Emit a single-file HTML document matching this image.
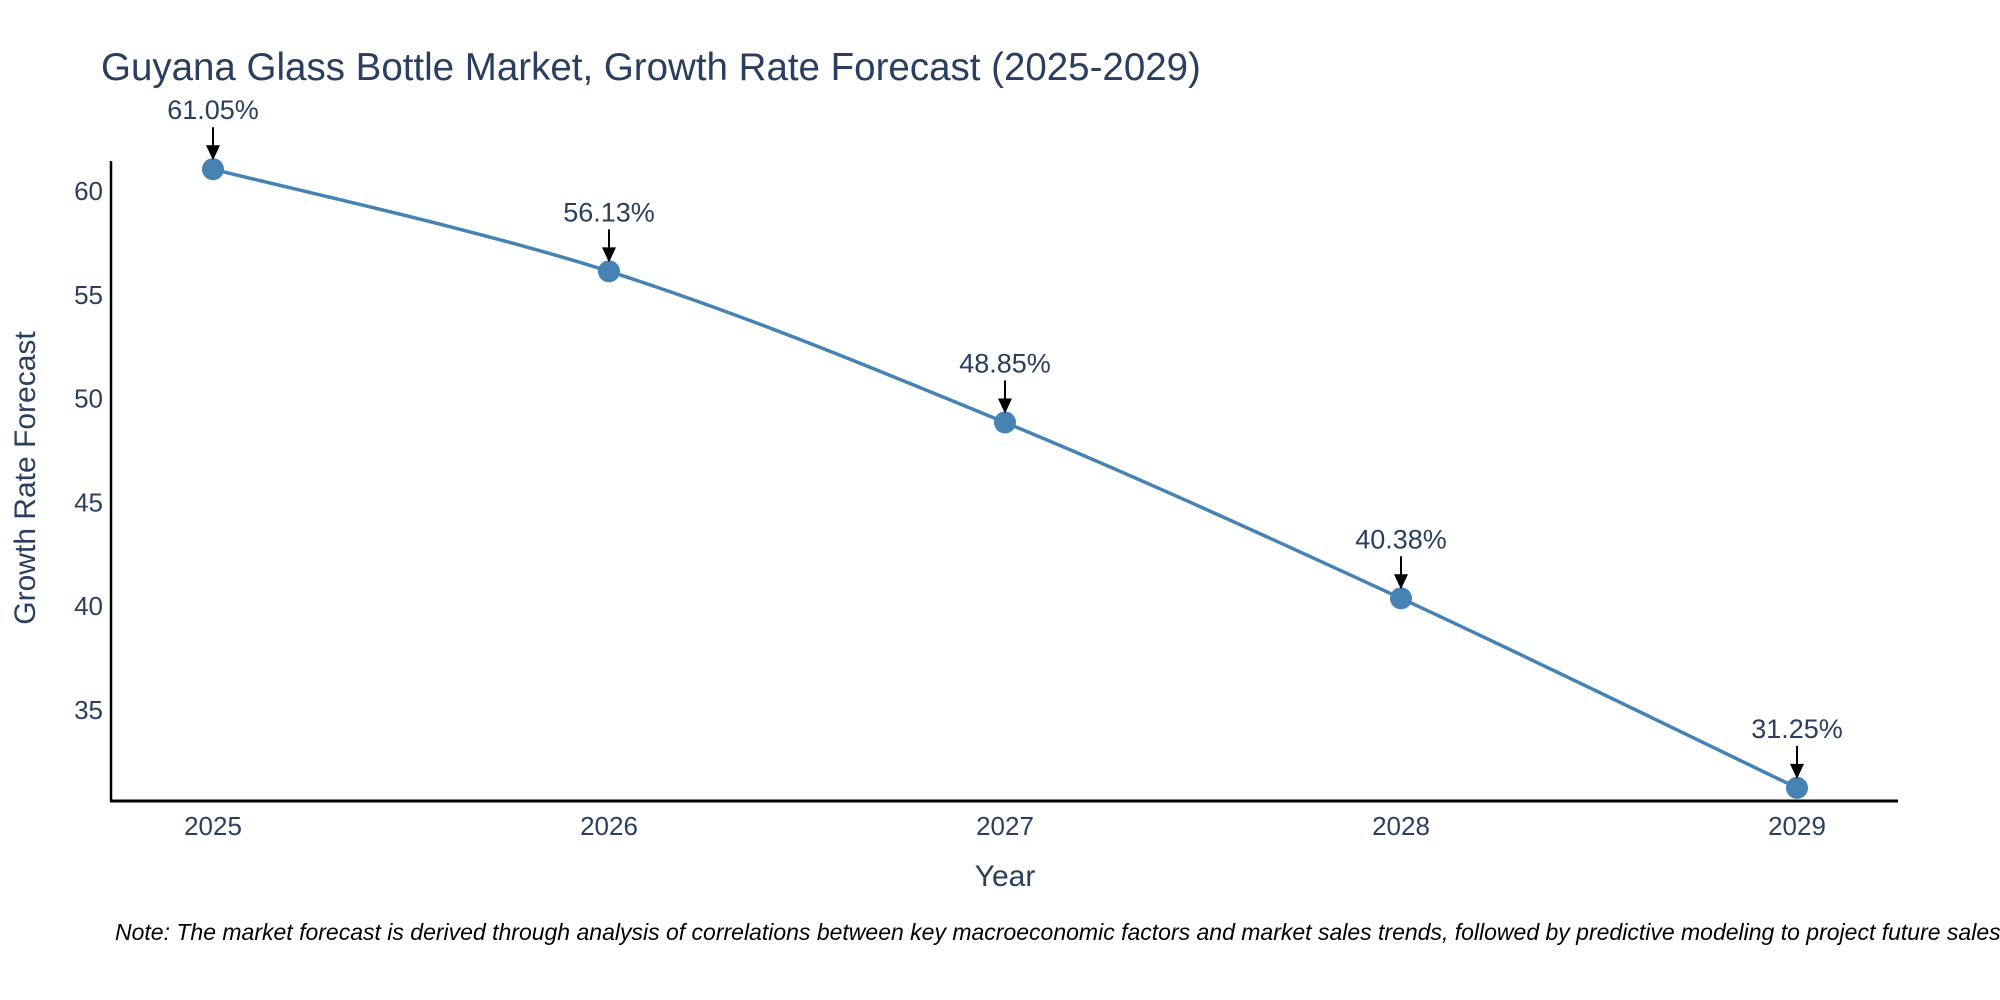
<!DOCTYPE html>
<html><head><meta charset="utf-8"><style>
html,body{margin:0;padding:0;background:#fff;overflow:hidden;}
svg{display:block;font-family:"Liberation Sans",sans-serif;}
</style></head><body>
<svg id="chart" width="2000" height="1000" viewBox="0 0 2000 1000" xmlns="http://www.w3.org/2000/svg">
<text x="101" y="80" font-size="38.5" fill="#2a3f5f">Guyana Glass Bottle Market, Growth Rate Forecast (2025-2029)</text>
<g id="yticks"></g><g id="xticks"></g>
<line x1="111" y1="161" x2="111" y2="802" stroke="#000" stroke-width="2.5"/>
<line x1="110" y1="801" x2="1898" y2="801" stroke="#000" stroke-width="3"/>
<path id="line" fill="none" stroke="#4682b4" stroke-width="3.5"/>
<g id="marks"></g>
<text transform="translate(35,478) rotate(-90)" text-anchor="middle" font-size="30" fill="#2a3f5f">Growth Rate Forecast</text>
<text x="1005" y="886" text-anchor="middle" font-size="30" fill="#2a3f5f">Year</text>
<text x="115" y="940" font-size="23" font-style="italic" fill="#000">Note: The market forecast is derived through analysis of correlations between key macroeconomic factors and market sales trends, followed by predictive modeling to project future sales.</text>
</svg>
<script>
const years = ["2025","2026","2027","2028","2029"];
const values = [61.05, 56.13, 48.85, 40.38, 31.25];
const yTicks = [35, 40, 45, 50, 55, 60];
const NS = "http://www.w3.org/2000/svg";
function xs(i){ return 213 + i * 396; }
function ys(v){ return 191 + (60 - v) * 20.76; }
function mk(tag, attrs, parent){ const e = document.createElementNS(NS, tag); for (const k in attrs) e.setAttribute(k, attrs[k]); parent.appendChild(e); return e; }
const yt = document.getElementById("yticks");
yTicks.forEach(t => {
  const e = mk("text", {x: 103, y: ys(t) + 9, "text-anchor": "end", "font-size": 26, fill: "#2a3f5f"}, yt);
  
  
  e.textContent = t;
});
const xt = document.getElementById("xticks");
years.forEach((y, i) => {
  const e = mk("text", {x: xs(i), y: 835, "text-anchor": "middle", "font-size": 26, fill: "#2a3f5f"}, xt);
  
  
  e.textContent = y;
});
const pts = values.map((v, i) => [xs(i), ys(v)]);
let d = "M" + pts[0][0] + "," + pts[0][1];
for (let i = 0; i < pts.length - 1; i++) {
  const p0 = pts[Math.max(0, i - 1)], p1 = pts[i], p2 = pts[i + 1], p3 = pts[Math.min(pts.length - 1, i + 2)];
  const c1 = [p1[0] + (p2[0] - p0[0]) / 6, p1[1] + (p2[1] - p0[1]) / 6];
  const c2 = [p2[0] - (p3[0] - p1[0]) / 6, p2[1] - (p3[1] - p1[1]) / 6];
  d += " C" + c1 + " " + c2 + " " + p2;
}
document.getElementById("line").setAttribute("d", d);
const mg = document.getElementById("marks");
values.forEach((v, i) => {
  const x = xs(i), y = ys(v);
  const c = mk("circle", {cx: x, cy: y, r: 11, fill: "#4682b4"}, mg);
  
  
  const a = mk("line", {x1: x, y1: y - 42, x2: x, y2: y - 22, stroke: "#000", "stroke-width": 2}, mg);
  
  
  const h = mk("polygon", {points: (x - 7) + "," + (y - 24) + " " + (x + 7) + "," + (y - 24) + " " + x + "," + (y - 9)}, mg);
  
  
  const t = mk("text", {x: x, y: y - 50, "text-anchor": "middle", "font-size": 27, fill: "#2a3f5f"}, mg);
  
  
  t.textContent = v.toFixed(2) + "%";
});
</script>
</body></html>
